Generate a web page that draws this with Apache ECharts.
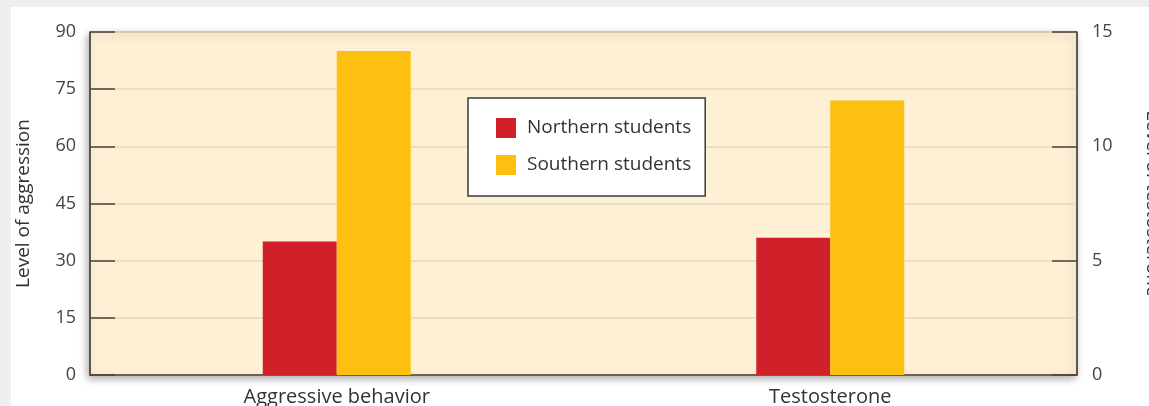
<!DOCTYPE html>
<html>
<head>
<meta charset="utf-8">
<script src="https://cdn.jsdelivr.net/npm/echarts@6/dist/echarts.min.js"></script>
<style>
  html, body { margin: 0; padding: 0; background: #efefef; width: 1149px; height: 406px; overflow: hidden; }
  #chart { position: absolute; left: 11px; top: 7px; width: 1138px; height: 399px; background: #ffffff; }
</style>
</head>
<body>
<div id="chart"></div>
<script>
const categories = ['Aggressive behavior', 'Testosterone'];
const seriesNames = ['Northern students', 'Southern students'];
// Aggressive behavior on the left axis (Level of aggression)
const aggressionValues = { north: 35, south: 85 };
// Testosterone on the right axis (Level of testosterone)
const testosteroneValues = { north: 6, south: 12 };
const leftTicks = { min: 0, max: 90, interval: 15 };
const rightTicks = { min: 0, max: 15, interval: 5 };
const colors = ['#d0212a', '#fdc011'];

const chart = echarts.init(document.getElementById('chart'));
const font = 'Open Sans, Noto Sans, sans-serif';
const axisDark = '#4a4339';

function barSeries(name, stack, yAxisIndex, data, color) {
  return {
    name: name, type: 'bar', stack: stack, yAxisIndex: yAxisIndex,
    data: data, barWidth: 74, barGap: '0%',
    itemStyle: { color: color }, emphasis: { disabled: true }
  };
}

chart.setOption({
  animation: false,
  textStyle: { fontFamily: font },
  grid: {
    left: 79, top: 25, right: 72, bottom: 31,
    containLabel: false, outerBoundsMode: 'none',
    show: true, backgroundColor: '#fdf0d4', borderColor: '#5a5248', borderWidth: 1,
    shadowBlur: 8, shadowColor: 'rgba(0,0,0,0.35)', shadowOffsetX: -2, shadowOffsetY: 3
  },
  legend: {
    data: seriesNames,
    orient: 'vertical', left: 457, top: 91,
    backgroundColor: '#ffffff', borderColor: '#3a3a3a', borderWidth: 1.5, borderRadius: 0,
    padding: [20, 14, 21, 28],
    itemWidth: 20, itemHeight: 20, itemGap: 17,
    icon: 'rect',
    textStyle: { fontSize: 19, color: '#333', fontFamily: font, padding: [0, 0, 0, 6] }
  },
  xAxis: {
    type: 'category', data: categories,
    axisLine: { show: true, lineStyle: { color: axisDark, width: 1.5 } },
    axisTick: { show: false },
    axisLabel: { fontSize: 20, color: '#333', margin: 12 },
    splitLine: { show: false }
  },
  yAxis: [
    {
      type: 'value', position: 'left', min: leftTicks.min, max: leftTicks.max, interval: leftTicks.interval,
      name: 'Level of aggression', nameLocation: 'middle', nameGap: 57, nameRotate: 90,
      nameTextStyle: { fontSize: 19, color: '#333' },
      axisLine: { show: true, lineStyle: { color: axisDark, width: 1.5 } },
      axisTick: { show: true, inside: true, length: 25, lineStyle: { color: axisDark, width: 1.5 } },
      axisLabel: { fontSize: 18, color: '#444', margin: 14 },
      splitLine: { show: true, lineStyle: { color: '#e6d9bd', width: 1.5 } }
    },
    {
      type: 'value', position: 'right', min: rightTicks.min, max: rightTicks.max, interval: rightTicks.interval,
      name: 'Level of testosterone', nameLocation: 'middle', nameGap: 66, nameRotate: -90,
      nameTextStyle: { fontSize: 19, color: '#333' },
      axisLine: { show: true, lineStyle: { color: axisDark, width: 1.5 } },
      axisTick: { show: true, inside: true, length: 25, lineStyle: { color: axisDark, width: 1.5 } },
      axisLabel: { fontSize: 18, color: '#444', margin: 15 },
      splitLine: { show: false }
    }
  ],
  series: [
    barSeries(seriesNames[0], 'north', 0, [aggressionValues.north, '-'], colors[0]),
    barSeries(seriesNames[1], 'south', 0, [aggressionValues.south, '-'], colors[1]),
    barSeries(seriesNames[0], 'north', 1, ['-', testosteroneValues.north], colors[0]),
    barSeries(seriesNames[1], 'south', 1, ['-', testosteroneValues.south], colors[1])
  ]
});
</script>
</body>
</html>
